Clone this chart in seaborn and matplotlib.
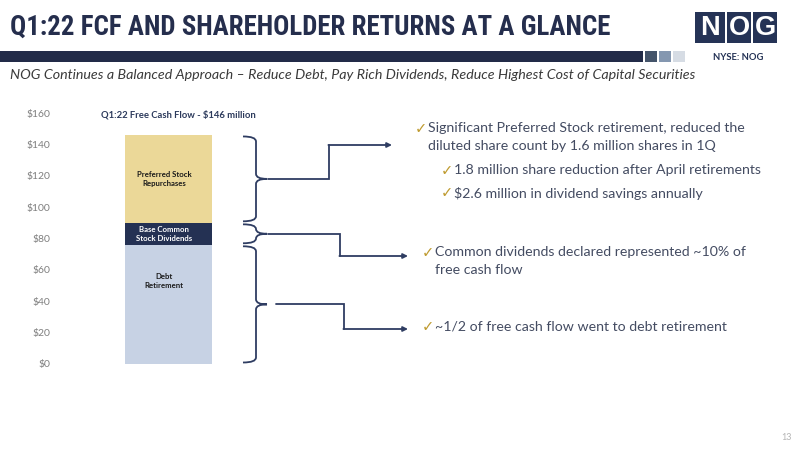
import numpy as np
import pandas as pd
import seaborn as sns
import matplotlib.pyplot as plt
from matplotlib import font_manager
from matplotlib.path import Path
from matplotlib.patches import PathPatch, Rectangle

# stacked bar data ($ million, Q1:22 free cash flow)
segments = ["Debt Retirement", "Base Common Stock Dividends", "Preferred Stock Repurchases"]
seg_labels = ["Debt\nRetirement", "Base Common\nStock Dividends", "Preferred Stock\nRepurchases"]
seg_values = [76, 14, 56]
seg_colors = ["#c7d2e4", "#243153", "#ebd898"]
label_colors = ["#1a1a1a", "#ffffff", "#1a1a1a"]
y_ticks = [0, 20, 40, 60, 80, 100, 120, 140, 160]
chart_title = "Q1:22 Free Cash Flow - $146 million"

title = "Q1:22 FCF AND SHAREHOLDER RETURNS AT A GLANCE"
subtitle = ("NOG Continues a Balanced Approach \u2013 Reduce Debt, Pay Rich Dividends, "
            "Reduce Highest Cost of Capital Securities")
bullets_pref = ["Significant Preferred Stock retirement, reduced the\ndiluted share count by 1.6 million shares in 1Q"]
sub_bullets_pref = ["1.8 million share reduction after April retirements",
                    "$2.6 million in dividend savings annually"]
bullet_div = "Common dividends declared represented ~10% of\nfree cash flow"
bullet_debt = "~1/2 of free cash flow went to debt retirement"

navy = "#253356"
line_col = "#2f3d62"
text_col = "#444c62"
gold = "#bf9b30"

sns.set_theme(style="white")
plt.rcParams['font.family'] = ['Lato', 'DejaVu Sans']

# pick a narrow font for the header if one is installed
title_family = "Lato"
for fam in ["Liberation Sans Narrow", "Roboto Condensed", "Open Sans Condensed", "Noto Sans Condensed"]:
    try:
        font_manager.findfont(font_manager.FontProperties(family=fam), fallback_to_default=False)
        title_family = fam
        break
    except ValueError:
        pass

fig = plt.figure(figsize=(8, 4.5), dpi=100)
fig.patch.set_facecolor("white")

# overlay in pixel coordinates for header, braces and text
ov = fig.add_axes([0, 0, 1, 1])
ov.set_xlim(0, 800)
ov.set_ylim(450, 0)
ov.axis("off")
ov.patch.set_alpha(0)

ax = fig.add_axes([60 / 800, 1 - 364 / 450, 217 / 800, 251 / 450])
ax.patch.set_alpha(0)

df = pd.DataFrame({"period": "Q1:22", "segment": segments, "value": seg_values})
df["bottom"] = df["value"].cumsum() - df["value"]
for i, row in df.iterrows():
    sns.barplot(x=["Q1:22"], y=[row["value"]], bottom=row["bottom"], color=seg_colors[i],
                saturation=1, width=0.8, errorbar=None, linewidth=0, ax=ax)

ax.set_xlim(-1, 1)
ax.set_ylim(0, 160)
ax.set_yticks(y_ticks)
ax.set_yticklabels([f"${v}" for v in y_ticks], color="#7f7f7f", fontsize=7.5)
ax.tick_params(axis="y", length=0, pad=7)
ax.set_xticks([])
ax.set_xlabel("")
ax.set_ylabel("")
sns.despine(ax=ax, left=True, bottom=True)
ax.text(0.09, 158.8, chart_title, ha="center", va="center", fontsize=6.8,
        fontweight="bold", color="#2c3a5c")

# segment labels
label_pos = [(0, 53), (0, 83), (0, 118)]
for (x, y), lab, c in zip(label_pos, seg_labels, label_colors):
    ax.text(x - 0.04, y, lab, ha="center", va="center", fontsize=5.6, fontweight="bold",
            color=c, linespacing=1.35)


def ypx(v):
    return 450 - ax.transData.transform((0, v))[1]


def brace(y0, y1, x0=243, xv=256, xt=267, r=5):
    ym = (y0 + y1) / 2
    r = min(r, (y1 - y0) / 4)
    verts = [(x0, y0), (xv, y0), (xv, y0 + r), (xv, ym - r), (xv, ym), (xt, ym),
             (xv, ym), (xv, ym + r), (xv, y1 - r), (xv, y1), (x0, y1)]
    codes = [Path.MOVETO, Path.CURVE3, Path.CURVE3, Path.LINETO, Path.CURVE3, Path.CURVE3,
             Path.CURVE3, Path.CURVE3, Path.LINETO, Path.CURVE3, Path.CURVE3]
    ov.add_patch(PathPatch(Path(verts, codes), fill=False, edgecolor=line_col, lw=1.3))
    return ym


tops = df["bottom"] + df["value"]
connectors = [(276, 344, 329, 408), (268, 340, 256, 408), (268, 329, 145, 392)]
for i in range(3):
    y0 = ypx(tops[i]) + 1.5
    y1 = ypx(df["bottom"][i]) - 1.5
    ym = brace(y0, y1)
    xs, xk, ya, xe = connectors[i]
    ov.plot([xs, xk, xk], [ym, ym, ya], color=line_col, lw=1.3, solid_joinstyle="miter")
    ov.annotate("", xy=(xe, ya), xytext=(xk - 0.6, ya),
                arrowprops=dict(arrowstyle="-|>", color=line_col, lw=1.3,
                                shrinkA=0, shrinkB=0, mutation_scale=7))

# header
t = ov.text(10, 27, title, ha="left", va="center", fontsize=20, fontweight="bold",
            color="#252e4d", family=[title_family, "DejaVu Sans"])
renderer = fig.canvas.get_renderer()
tw = t.get_window_extent(renderer).width
t.set_fontsize(20 * min(1.0, 600 / tw))

ov.add_patch(Rectangle((0, 51), 643, 11, color="#222b48", lw=0))
for x, c in zip([645, 659, 673], ["#44546a", "#8497b0", "#d6dce4"]):
    ov.add_patch(Rectangle((x, 51), 12, 11, color=c, lw=0))
for x, ch in zip([695, 727, 753], "NOG"):
    w = 30 if ch == "N" else 24
    ov.add_patch(Rectangle((x, 12), w, 31, color=navy, lw=0))
    ov.text(x + w / 2, 28, ch, ha="center", va="center", fontsize=19.5,
            fontweight="bold", color="white", family=["Liberation Sans"])
ov.text(738, 57, "NYSE: NOG", ha="center", va="center", fontsize=6.8, fontweight="bold",
        color="#253356")
ov.text(10, 75, subtitle, ha="left", va="center", fontsize=10.3, style="italic", color="#3a3a3a")
ov.text(787, 437, "13", ha="center", va="center", fontsize=6.5, color="#b5b5b5")


# bullets: y is the centre of the first line
def bullet(x, y, s):
    ov.text(x, y, "\u2713", ha="left", va="center", fontsize=10.5, color=gold,
            family=["DejaVu Sans"])
    ov.text(x + 13, y - 6.5, s, ha="left", va="top", fontsize=10.2, color=text_col,
            linespacing=1.55)


bullet(415, 129, bullets_pref[0])
for y, s in zip([171, 193], sub_bullets_pref):
    bullet(441, y, s)
bullet(422, 253, bullet_div)
bullet(422, 327, bullet_debt)

fig.savefig("out.png", dpi=100)
